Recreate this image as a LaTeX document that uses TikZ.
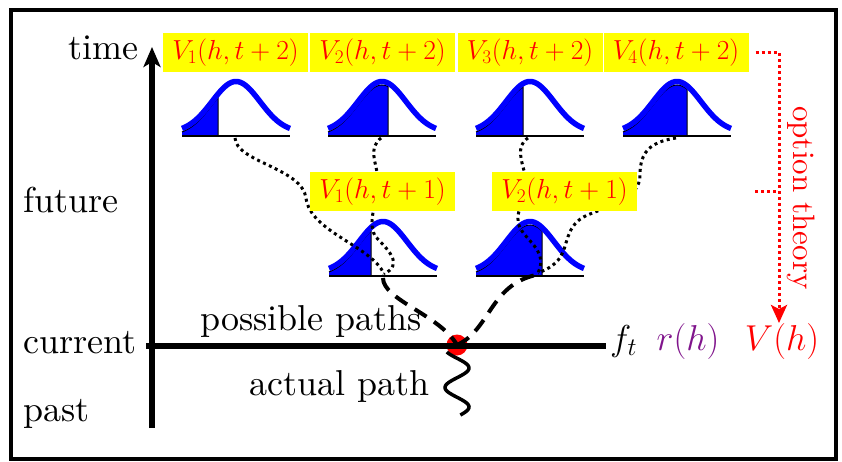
\RequirePackage{fix-cm}
\documentclass[tikz,border=0pt]{standalone}
\usepackage{fontspec}
\setmainfont{lmroman10-regular.otf}
\usetikzlibrary{arrows.meta}
\definecolor{ybox}{RGB}{255,255,0}
\definecolor{rtxt}{RGB}{255,0,0}
\definecolor{gblue}{RGB}{0,0,255}
\definecolor{rpurp}{RGB}{128,20,140}
\newcommand\gaussshape[3]{%
  \fill[gblue] (#1-54,#2) -- plot[domain=-54:#3,samples=40] ({#1+\x},{#2-51*exp(-(\x)*(\x)/1152)}) -- (#1+#3,#2) -- cycle;
  \draw[line width=1pt] plot[domain=-54:#3,samples=40] ({#1+\x},{#2-51*exp(-(\x)*(\x)/1152)}) -- (#1+#3,#2);
  \draw[line width=1.4pt] (#1-54,#2) -- (#1+54,#2);
  \draw[gblue,line width=5.5pt] plot[domain=-54:54,samples=60] ({#1+\x},{#2-3.5-51*exp(-(\x)*(\x)/1152)});
}
\tikzset{
  bigtext/.style={font=\fontsize{36}{40}\selectfont, inner sep=0pt},
  vbox/.style={fill=ybox, minimum width=145pt, minimum height=39pt, inner sep=0pt, text=rtxt, font=\fontsize{27.5}{30}\selectfont},
  dotpath/.style={line width=3pt, dash pattern=on 3pt off 3.5pt},
  dashpath/.style={line width=4pt, dash pattern=on 14pt off 9pt},
  reddot/.style={rtxt, line width=3pt, dash pattern=on 3pt off 3pt},
}
\begin{document}
\begin{tikzpicture}[x=1pt,y=-1pt]
\useasboundingbox (0,0) rectangle (842,462);
\fill[white] (0,0) rectangle (842,462);
\draw[line width=4pt] (11,10) rectangle (836,459);

% distributions
\gaussshape{236}{136}{-18}
\gaussshape{382}{136}{6}
\gaussshape{530}{136}{-7}
\gaussshape{677}{136}{10}
\gaussshape{383}{276}{-12}
\gaussshape{530}{276}{12}

% coordinates
\coordinate (s1) at (235,138);
\coordinate (s2) at (381,138);
\coordinate (s3) at (528,138);
\coordinate (s4) at (676,138);
\coordinate (e1) at (384,274);
\coordinate (e2) at (538,273);
\coordinate (d1) at (383,278);
\coordinate (d2) at (536,275);
\coordinate (dot) at (457,345);

% dotted paths
\draw[dotpath] (s1) .. controls (236,162) and (302,168) .. (306,198) .. controls (310,232) and (372,246) .. (e1);
\draw[dotpath] (s2) .. controls (368,148) and (376,162) .. (378,178) .. controls (380,200) and (366,218) .. (375,236) .. controls (388,250) and (404,264) .. (e1);
\draw[dotpath] (s3) .. controls (515,146) and (522,162) .. (526,178) .. controls (530,198) and (512,210) .. (520,228) .. controls (528,242) and (548,252) .. (e2);
\draw[dotpath] (s4) .. controls (650,142) and (640,152) .. (640,175) .. controls (640,198) and (612,205) .. (590,214) .. controls (568,222) and (568,240) .. (563,252) .. controls (558,264) and (548,269) .. (e2);

% value boxes
\node[vbox] (b21) at (235.5,52.5) {$V_1(h,t+2)$};
\node[vbox] (b22) at (382.5,52.5) {$V_2(h,t+2)$};
\node[vbox] (b23) at (530,52.5) {$V_3(h,t+2)$};
\node[vbox] (b24) at (676,52.5) {$V_4(h,t+2)$};
\node[vbox] (b11) at (382.5,191.5) {$V_1(h,t+1)$};
\node[vbox] (b12) at (564.5,191.5) {$V_2(h,t+1)$};

% axes
\coordinate (ay0) at (152,428);
\coordinate (ay1) at (152,47);
\coordinate (ax0) at (146,346);
\coordinate (ax1) at (606,346);
\fill[red] (dot) circle (10.5);
\draw[line width=5.5pt, -{Stealth[length=20pt,width=17pt,inset=5pt]}] (ay0) -- (ay1);
\draw[line width=5.5pt] (ax0) -- (ax1);

% possible and actual paths
\draw[dashpath] (d1) .. controls (383,300) and (440,315) .. (dot);
\draw[dashpath] (dot) .. controls (490,330) and (490,285) .. (d2);
\draw[line width=3.5pt] plot[domain=352:415, samples=70] ({457+12*sin(90+(\x-368)*9.23)},\x);

% labels
\node[bigtext, anchor=base east] (ltime) at (139,60) {time};
\node[bigtext, anchor=base west] (lfut) at (23,213) {future};
\node[bigtext, anchor=base west] (lcur) at (23,353) {current};
\node[bigtext, anchor=base west] (lpast) at (23,421) {past};
\node[bigtext, anchor=base west] (lposs) at (200,330) {possible paths};
\node[bigtext, anchor=base east] (lact) at (430,395) {actual path};
\node[bigtext, anchor=base west] (lft) at (610,350) {$f_t$};
\node[bigtext, anchor=base, text=rpurp] (lr) at (688,350) {$r(h)$};
\node[bigtext, anchor=base, text=rtxt] (lV) at (782,350) {$V(h)$};

% option theory
\coordinate (ot1) at ([xshift=7pt]b24.east);
\coordinate (ot2) at (779,52.5);
\coordinate (ot3) at (779,323);
\coordinate (om1) at (755,192);
\coordinate (om2) at (779,192);
\draw[reddot, -{Stealth[length=18pt,width=16pt,inset=4pt]}] (ot1) -- (ot2) -- (ot3);
\draw[reddot] (om1) -- (om2);
\node[rotate=-90, text=rtxt, font=\fontsize{31}{35}\selectfont, inner sep=0pt] (lopt) at (801,198) {option theory};
\end{tikzpicture}
\end{document}
